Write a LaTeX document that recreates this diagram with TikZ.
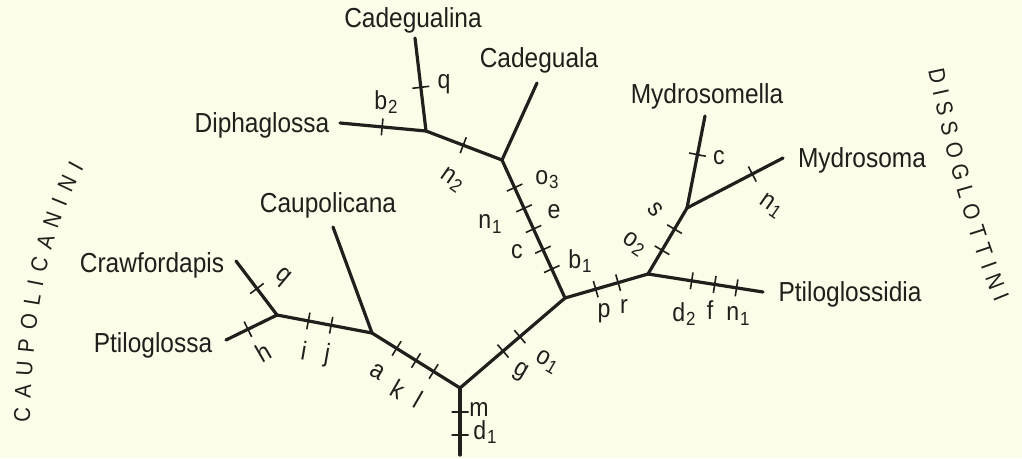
\documentclass[tikz,border=0pt]{standalone}
\usepackage{fontspec}
\setmainfont{Liberation Sans}[FakeStretch=0.89]
\usepackage{tikz}
\usetikzlibrary{decorations.text}
\definecolor{paper}{RGB}{253,252,233}
\definecolor{ink}{RGB}{33,30,27}
\tikzstyle{branch} = [draw=ink, line width=3.2pt, line cap=round]
\tikzstyle{tickmark} = [sloped, rectangle, draw=ink, line width=1.6pt, minimum width=0pt, minimum height=17pt, inner sep=0pt]
\tikzstyle{taxon} = [text=ink, font=\fontsize{27.5}{30}\selectfont, inner sep=0pt, anchor=base]
\tikzstyle{charlbl} = [text=ink, font=\fontsize{26}{28}\selectfont, inner sep=0pt]
\newcommand{\lsub}[2]{#1\kern1pt\raisebox{-.3ex}{\fontsize{19}{19}\selectfont #2}}
\newcommand{\sidefont}{\fontsize{23}{23}\selectfont\color{ink}}

\begin{document}
\begin{tikzpicture}[x=1pt, y=-1pt]
\useasboundingbox (0,0) rectangle (1022,458);
\fill[paper] (0,0) rectangle (1022,458);

% branch points of the tree (pixel grid, y down)
\coordinate (nR) at (460,388);
\coordinate (nA) at (372,333);
\coordinate (nP) at (277,315);
\coordinate (nB) at (565,298);
\coordinate (nC) at (502,160);
\coordinate (nD) at (426,131);
\coordinate (nE) at (648,274);
\coordinate (nF) at (687,208);
% free ends
\coordinate (eRoot) at (460,455);
\coordinate (eCraw) at (236,261);
\coordinate (ePtil) at (226,340);
\coordinate (eCaup) at (333,227);
\coordinate (eCdla) at (537,83);
\coordinate (eCdna) at (415,38);
\coordinate (eDiph) at (340,123);
\coordinate (ePtds) at (763,292);
\coordinate (eMyla) at (705,116);
\coordinate (eMyma) at (783,158);

% Caupolicanini side
\draw[branch] (nR) -- (eRoot) node[tickmark, pos=0.36] (tm) {} node[tickmark, pos=0.70] (td1) {};
\draw[branch] (nR) -- (nA) node[tickmark, pos=0.30] (tl) {} node[tickmark, pos=0.50] (tk) {} node[tickmark, pos=0.72] (ta) {};
\draw[branch] (nA) -- (eCaup);
\draw[branch] (nA) -- (nP) node[tickmark, pos=0.43] (tj) {} node[tickmark, pos=0.67] (ti) {};
\draw[branch] (nP) -- (eCraw) node[tickmark, pos=0.49] (tq1) {};
\draw[branch] (nP) -- (ePtil) node[tickmark, pos=0.57] (th) {};
% Dissoglottini side
\draw[branch] (nR) -- (nB) node[tickmark, pos=0.41] (tg) {} node[tickmark, pos=0.57] (to1) {};
\draw[branch] (nB) -- (nC) node[tickmark, pos=0.21] (tb1) {} node[tickmark, pos=0.35] (tc1) {} node[tickmark, pos=0.50] (te) {} node[tickmark, pos=0.65] (tn1) {} node[tickmark, pos=0.80] (to3) {};
\draw[branch] (nC) -- (eCdla);
\draw[branch] (nC) -- (nD) node[tickmark, pos=0.51] (tn2) {};
\draw[branch] (nD) -- (eCdna) node[tickmark, pos=0.47] (tq2) {};
\draw[branch] (nD) -- (eDiph) node[tickmark, pos=0.51] (tb2) {};
\draw[branch] (nB) -- (nE) node[tickmark, pos=0.37] (tp) {} node[tickmark, pos=0.64] (tr) {};
\draw[branch] (nE) -- (ePtds) node[tickmark, pos=0.38] (td2) {} node[tickmark, pos=0.58] (tf) {} node[tickmark, pos=0.77] (tn1b) {};
\draw[branch] (nE) -- (nF) node[tickmark, pos=0.36] (to2) {} node[tickmark, pos=0.68] (ts) {};
\draw[branch] (nF) -- (eMyla) node[tickmark, pos=0.58] (tc2) {};
\draw[branch] (nF) -- (eMyma) node[tickmark, pos=0.68] (tn1c) {};

% taxa
\node[taxon] (Craw) at (152,272) {Crawfordapis};
\node[taxon] (Ptil) at (153,352) {Ptiloglossa};
\node[taxon] (Caup) at (328,212) {Caupolicana};
\node[taxon] (Diph) at (262,132) {Diphaglossa};
\node[taxon] (Cdna) at (413,27) {Cadegualina};
\node[taxon] (Cdla) at (539,67) {Cadeguala};
\node[taxon] (Myla) at (707,103) {Mydrosomella};
\node[taxon] (Myma) at (862,167) {Mydrosoma};
\node[taxon] (Ptds) at (850,301) {Ptiloglossidia};

% character labels
\node[charlbl] (lm) at (479,409) {m};
\node[charlbl] (ld1) at (485,432) {\lsub{d}{1}};
\node[charlbl, rotate=-30] (la) at (378,372) {a};
\node[charlbl, rotate=-30] (lk) at (398,389) {k};
\node[charlbl, rotate=-30] (ll) at (418,400) {l};
\node[charlbl, rotate=-10] (li) at (304,351) {i};
\node[charlbl, rotate=-10] (lj) at (327,355) {j};
\node[charlbl, rotate=-40] (lq1) at (282,277) {q};
\node[charlbl, rotate=30] (lh) at (263,352) {h};
\node[charlbl, rotate=-30] (lg) at (520,372) {g};
\node[charlbl, rotate=-30] (lo1) at (547,362) {\lsub{o}{1}};
\node[charlbl] (lo3) at (547,180) {\lsub{o}{3}};
\node[charlbl] (le) at (554,212) {e};
\node[charlbl] (ln1) at (490,224) {\lsub{n}{1}};
\node[charlbl] (lc1) at (517,252) {c};
\node[charlbl] (lb1) at (580,261) {\lsub{b}{1}};
\node[charlbl, rotate=-35] (ln2) at (452,180) {\lsub{n}{2}};
\node[charlbl] (lq2) at (444,84) {q};
\node[charlbl] (lb2) at (386,102) {\lsub{b}{2}};
\node[charlbl] (lp) at (604,313) {p};
\node[charlbl] (lr) at (624,306) {r};
\node[charlbl] (ld2) at (684,314) {\lsub{d}{2}};
\node[charlbl] (lf) at (710,310) {f};
\node[charlbl] (ln1b) at (738,316) {\lsub{n}{1}};
\node[charlbl, rotate=-35] (lo2) at (634,244) {\lsub{o}{2}};
\node[charlbl, rotate=-50] (ls) at (655,210) {s};
\node[charlbl] (lc2) at (719,158) {c};
\node[charlbl, rotate=-35] (ln1c) at (771,206) {\lsub{n}{1}};

% tribe names
\path[decorate, decoration={text along path, text align=fit to path, text={|\sidefont|CAUPOLICANINI}}]
  (30,422) .. controls (32,330) and (43,242) .. (84,168);
\path[decorate, decoration={text along path, text align=fit to path, text={|\sidefont|DISSOGLOTTINI}}]
  (928,70) .. controls (945,150) and (965,230) .. (995,303);
\end{tikzpicture}
\end{document}
